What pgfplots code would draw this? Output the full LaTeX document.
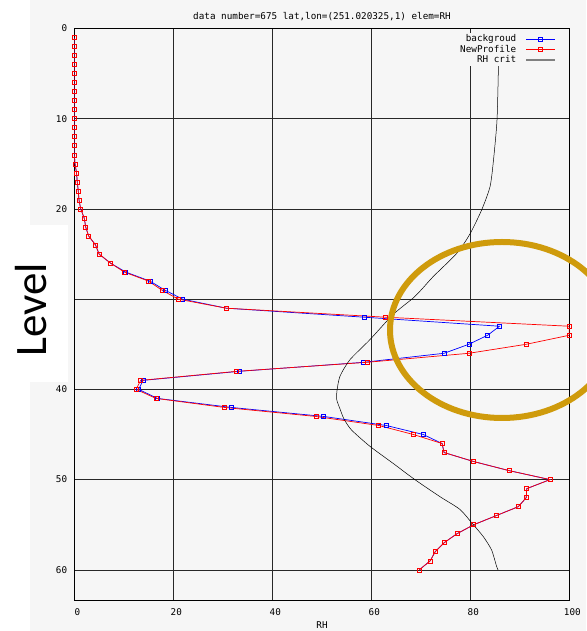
\documentclass[border=0pt]{standalone}
\usepackage{pgfplots}
\pgfplotsset{compat=1.18}
\usepackage{fontspec}
\newfontfamily\monofont{DejaVu Sans Mono}
\newfontfamily\carlito{Carlito}
\definecolor{panel}{RGB}{246,246,246}
\definecolor{gold}{RGB}{207,155,12}
\definecolor{gridc}{RGB}{40,40,40}
\newcommand{\mf}{\monofont\fontsize{9.3}{10}\selectfont}

\begin{document}
\begin{tikzpicture}[x=1pt,y=1pt]
\useasboundingbox (0,0) rectangle (586,631);
\fill[white] (0,0) rectangle (586,631);
\fill[panel] (30,0) rectangle (586,631);
\begin{axis}[
  at={(74.3pt,30.5pt)}, anchor=south west,
  scale only axis, width=495pt, height=572pt,
  xmin=0, xmax=100, ymin=0, ymax=63.4, y dir=reverse,
  xtick={0,20,...,100}, ytick={0,10,...,60},
  grid=major, major grid style={gridc, line width=0.6pt},
  major tick length=0pt,
  axis line style={black, line width=0.8pt},
  axis background/.style={fill=panel},
  /pgf/number format/assume math mode=true,
  ticklabel style={font=\mf, inner sep=0pt},
  xticklabel style={anchor=center, yshift=-12pt, xshift=3pt},
  yticklabel style={anchor=east, xshift=-7pt},
  legend plot pos=right,
  legend cell align=right,
  legend style={draw=none, fill=panel, inner sep=0pt,
    at={(axis cs:100,0)}, anchor=north east, xshift=-13.3pt, yshift=-4pt,
    font=\mf, row sep=-2pt,
    /tikz/every odd column/.append style={column sep=7pt}},
  legend image code/.code={\draw[mark repeat=2,mark phase=2] plot coordinates {(0pt,0pt) (14.5pt,0pt) (29pt,0pt)};},
]
% background (blue)
\addplot[blue, line width=0.7pt, mark=square, mark size=2pt, mark options={line width=0.6pt}] coordinates {
(0,1)(0,2)(0,3)(0,4)(0,5)(0,6)(0,7)(0,8)(0,9)(0,10)(0,11)(0,12)(0,13)(0,14)
(0.15,15)(0.45,16)(0.6,17)(0.8,18)(0.95,19)(1.3,20)(2.0,21)(2.3,22)(2.9,23)(4.3,24)(5.0,25)
(7.3,26)(10.4,27)(15.3,28)(18.3,29)(21.9,30)(30.7,31)(58.6,32)(85.9,33)(83.5,34)(79.7,35)
(74.7,36)(58.4,37)(33.3,38)(13.9,39)(13.0,40)(16.8,41)(31.7,42)(50.4,43)(63.0,44)(70.5,45)
(74.3,46)(74.7,47)(80.7,48)(87.8,49)(96.1,50)(91.4,51)(91.3,52)(89.7,53)(85.2,54)(80.7,55)
(77.3,56)(74.7,57)(72.9,58)(71.9,59)(69.7,60)
};
\addlegendentry{backgroud\vphantom{bgf}}
% NewProfile (red)
\addplot[red, line width=0.7pt, mark=square, mark size=2pt, mark options={line width=0.6pt}] coordinates {
(0,1)(0,2)(0,3)(0,4)(0,5)(0,6)(0,7)(0,8)(0,9)(0,10)(0,11)(0,12)(0,13)(0,14)
(0.15,15)(0.45,16)(0.6,17)(0.8,18)(0.95,19)(1.3,20)(2.0,21)(2.3,22)(2.9,23)(4.3,24)(5.0,25)
(7.3,26)(10.1,27)(15.0,28)(17.7,29)(21.0,30)(30.7,31)(62.9,32)(100,33)(100,34)(91.3,35)
(79.7,36)(59.1,37)(32.8,38)(13.4,39)(12.5,40)(16.5,41)(30.3,42)(48.8,43)(61.5,44)(68.5,45)
(74.3,46)(74.7,47)(80.7,48)(87.8,49)(96.1,50)(91.4,51)(91.3,52)(89.7,53)(85.2,54)(80.7,55)
(77.3,56)(74.7,57)(72.9,58)(71.9,59)(69.7,60)
};
\addlegendentry{NewProfile\vphantom{bgf}}
% RH crit
\addplot[black, line width=0.5pt, smooth, tension=0.4,
  legend image code/.code={\draw[gray, line width=1.6pt] (0pt,0pt) -- (29pt,0pt);}] coordinates {
(85.8,0.8)(85.7,3.8)(85.4,10.1)(84.7,14.5)(84.0,17.5)(82.3,20.1)(79.9,22.8)(77.3,24.9)
(72.5,27.5)(70.2,28.9)(68.4,29.9)(64.4,31.7)(59.7,34.5)(55.7,36.7)(53.7,38.5)(53.1,40.0)
(53.0,41.1)(53.7,42.2)(54.5,43.3)(56.0,44.5)(59.7,46.3)(64.4,48.2)(68.8,50.0)(73.9,51.9)
(77.9,53.3)(80.3,54.8)(82.6,56.3)(84.3,57.8)(85.3,59.6)(85.6,60.0)
};
\addlegendentry{RH crit\vphantom{bgf}}
\end{axis}
\node[font=\mf, inner sep=0pt] at (322,614) {data number=675 lat,lon=(251.020325,1) elem=RH};
\node[font=\mf, inner sep=0pt] at (322,5.5) {RH};
\draw[gold, line width=6pt] (502,301) ellipse [x radius=112, y radius=88];
\fill[white] (0,249) rectangle (68,406);
\node[rotate=90, inner sep=0pt, font=\carlito\fontsize{45}{45}\selectfont] at (31,321) {Level};
\end{tikzpicture}
\end{document}
